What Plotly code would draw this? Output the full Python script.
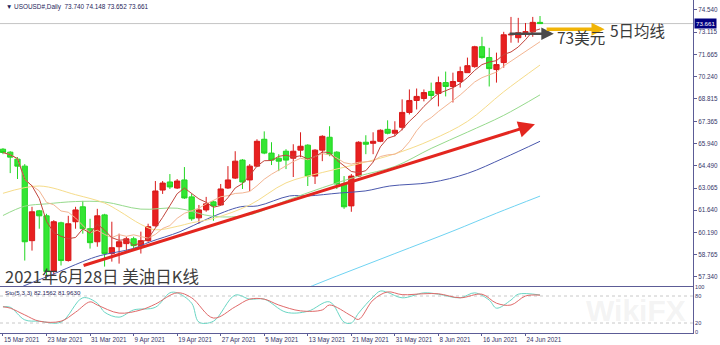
import numpy as np
import pandas as pd
import plotly.graph_objects as go

# ---------------- data ----------------
dates = [
    "2021-03-15", "2021-03-16", "2021-03-17", "2021-03-18", "2021-03-19",
    "2021-03-22", "2021-03-23", "2021-03-24", "2021-03-25", "2021-03-26",
    "2021-03-29", "2021-03-30", "2021-03-31", "2021-04-01", "2021-04-05",
    "2021-04-06", "2021-04-07", "2021-04-08", "2021-04-09", "2021-04-12",
    "2021-04-13", "2021-04-14", "2021-04-15", "2021-04-16", "2021-04-19",
    "2021-04-20", "2021-04-21", "2021-04-22", "2021-04-23", "2021-04-26",
    "2021-04-27", "2021-04-28", "2021-04-29", "2021-04-30", "2021-05-03",
    "2021-05-04", "2021-05-05", "2021-05-06", "2021-05-07", "2021-05-10",
    "2021-05-11", "2021-05-12", "2021-05-13", "2021-05-14", "2021-05-17",
    "2021-05-18", "2021-05-19", "2021-05-20", "2021-05-21", "2021-05-24",
    "2021-05-25", "2021-05-26", "2021-05-27", "2021-05-28", "2021-05-31",
    "2021-06-01", "2021-06-02", "2021-06-03", "2021-06-04", "2021-06-07",
    "2021-06-08", "2021-06-09", "2021-06-10", "2021-06-11", "2021-06-14",
    "2021-06-15", "2021-06-16", "2021-06-17", "2021-06-18", "2021-06-21",
    "2021-06-22", "2021-06-23", "2021-06-24", "2021-06-25", "2021-06-28",
]
opens = [65.57, 65.38, 64.93, 64.48, 59.68, 61.60, 61.28, 57.69, 60.83, 58.40,
         60.90, 61.86, 60.45, 59.61, 61.34, 58.85, 59.29, 59.49, 59.80, 59.36,
         59.68, 60.64, 62.94, 63.46, 63.07, 63.59, 62.50, 61.15, 61.66, 62.18,
         61.98, 63.07, 63.71, 64.87, 63.59, 64.48, 66.21, 65.32, 64.99, 65.44,
         64.99, 65.51, 65.83, 63.84, 65.51, 66.34, 65.38, 63.33, 61.92, 63.84,
         66.02, 65.95, 66.08, 66.85, 66.60, 66.98, 67.94, 68.71, 68.84, 69.29,
         69.16, 69.86, 69.61, 69.93, 70.50, 70.89, 72.17, 71.47, 70.70, 71.15,
         72.93, 72.75, 73.10, 73.13, 73.740]
highs = [65.64, 65.44, 65.06, 64.61, 61.86, 61.66, 61.41, 61.00, 60.90, 61.28,
         61.86, 62.24, 61.09, 61.73, 61.41, 60.90, 60.13, 59.93, 59.93, 60.26,
         60.77, 63.52, 63.52, 63.97, 63.65, 64.42, 62.69, 61.98, 62.50, 62.24,
         63.33, 64.48, 65.44, 64.93, 64.61, 66.21, 66.72, 66.02, 65.25, 65.57,
         65.89, 66.66, 65.89, 65.57, 66.47, 67.05, 65.44, 63.84, 63.97, 66.08,
         66.47, 66.66, 66.85, 67.43, 67.37, 68.78, 69.42, 69.48, 69.42, 69.86,
         70.25, 70.57, 70.50, 70.89, 71.47, 72.23, 72.81, 72.10, 71.79, 73.13,
         74.09, 74.03, 73.70, 74.09, 74.148]
lows = [65.25, 64.03, 63.65, 58.40, 59.04, 60.45, 57.24, 57.44, 58.08, 58.33,
        60.45, 60.13, 59.17, 59.29, 58.01, 58.33, 58.20, 59.04, 59.17, 58.85,
        59.61, 60.58, 62.69, 63.01, 63.01, 62.37, 60.96, 60.77, 61.54, 60.96,
        61.92, 63.01, 63.65, 63.01, 62.88, 64.42, 65.25, 64.55, 64.16, 64.29,
        63.78, 65.06, 63.20, 63.33, 64.80, 65.12, 63.01, 61.73, 61.54, 63.78,
        65.25, 65.25, 66.02, 66.53, 66.40, 66.79, 67.81, 68.13, 68.65, 68.78,
        68.33, 68.97, 68.58, 69.54, 70.50, 70.82, 71.40, 69.61, 69.86, 70.82,
        72.43, 72.43, 72.81, 72.81, 73.652]
closes = [65.36, 65.06, 64.48, 59.61, 61.54, 61.28, 57.69, 60.90, 58.40, 60.77,
          61.66, 60.45, 59.55, 61.28, 58.85, 59.23, 59.61, 59.80, 59.36, 59.68,
          60.58, 62.88, 63.39, 63.14, 63.52, 62.43, 61.09, 61.66, 62.05, 61.92,
          63.01, 63.59, 64.80, 63.46, 64.48, 66.08, 65.32, 64.87, 64.80, 64.87,
          65.44, 65.76, 63.84, 65.51, 66.40, 65.25, 63.33, 61.86, 63.84, 66.02,
          65.89, 66.08, 66.79, 66.60, 66.79, 67.94, 68.71, 68.97, 69.22, 69.03,
          69.86, 69.61, 69.93, 70.57, 70.95, 72.17, 71.47, 70.76, 71.02, 72.94,
          72.97, 73.07, 73.13, 73.74, 73.661]

# moving averages (bar index, price)
ma20_idx = [0, 5, 10, 14, 16, 19, 21, 24, 26, 29, 34, 39, 44, 49, 54, 59, 64, 69, 74]
ma20_val = [62.73, 63.20, 62.64, 62.10, 61.59, 60.73, 60.38, 60.60, 60.83, 61.11,
            61.98, 63.40, 64.07, 64.63, 65.27, 66.16, 67.36, 69.27, 70.99]
ma30_idx = [0, 3, 6, 10, 14, 19, 24, 29, 34, 39, 44, 49, 54, 59, 64, 69, 74]
ma30_val = [61.30, 61.90, 62.05, 62.20, 62.17, 61.71, 61.77, 61.24, 61.35, 62.25,
            63.09, 63.84, 64.46, 65.62, 66.67, 67.75, 69.07]
ma60_idx = [0, 2.8, 6.5, 11, 13.4, 17.9, 20.3, 24.4, 28.2, 32.7, 35.1, 39.5, 42,
            46.4, 49.9, 53.3, 59, 64, 69, 74]
ma60_val = [56.10, 56.75, 57.44, 58.33, 58.72, 59.17, 59.61, 60.26, 61.09, 61.86,
            61.92, 62.56, 62.56, 62.75, 62.88, 63.20, 63.43, 64.01, 65.00, 66.08]
ma120_idx = [38, 46, 54, 62, 68, 74]
ma120_val = [55.90, 57.40, 58.85, 60.30, 61.45, 62.55]

# stochastic (5,3,3)
k_idx = [0, 1, 3, 5, 8, 11, 13, 14, 16, 18, 21, 23, 24, 26, 27, 29, 32, 34, 36, 39,
         42, 45, 47, 48, 49, 51, 52, 53, 55, 58, 60, 63, 65, 67, 68, 70, 71, 74]
k_val = [56, 55, 27, 24, 22, 76, 64, 44, 33, 49, 55, 87, 87, 64, 22, 24, 82, 73, 73, 44,
         46, 67, 22, 20, 42, 78, 91, 88, 76, 87, 84, 76, 87, 71, 53, 71, 84, 82.16]
d_idx = [0, 1, 3, 5, 8, 10, 12, 13, 16, 19, 21, 24, 26, 29, 32, 34, 36, 38, 41, 44,
         45, 48, 49, 51, 53, 55, 58, 60, 63, 66, 68, 70, 72, 74]
d_val = [56, 53, 38, 24, 24, 44, 67, 60, 42, 49, 62, 87, 76, 31, 56, 73, 73, 60, 47, 49,
         60, 36, 28, 71, 89, 83, 85, 85, 76, 84, 64, 60, 80, 81.96]

tick_dates = ["2021-03-15", "2021-03-23", "2021-03-31", "2021-04-09", "2021-04-19",
              "2021-04-27", "2021-05-05", "2021-05-13", "2021-05-21", "2021-05-31",
              "2021-06-08", "2021-06-16", "2021-06-24"]
tick_labels = ["15 Mar 2021", "23 Mar 2021", "31 Mar 2021", "9 Apr 2021", "19 Apr 2021",
               "27 Apr 2021", "5 May 2021", "13 May 2021", "21 May 2021", "31 May 2021",
               "8 Jun 2021", "16 Jun 2021", "24 Jun 2021"]
price_ticks = [74.540, 73.115, 71.665, 70.240, 68.815, 67.365, 65.940, 64.490,
               63.065, 61.640, 60.190, 58.765, 57.340]
stoch_ticks = [100, 80, 20, 0]

trend_start = (10.9, 58.05)
trend_end = (73.3, 67.17)
level_73 = 73.0

# ---------------- figure ----------------
x = np.arange(len(dates))
cs = pd.Series(closes)
ma5 = cs.rolling(5, min_periods=1).mean()
ma10 = cs.rolling(10, min_periods=1).mean()

AX = "#5c5c96"
TXT = "#353568"
FONT = "Liberation Sans"
CJK = "Noto Sans CJK SC"
XR = [-0.41, 95.08]
XD = [0, 693 / 720]

fig = go.Figure()

def line(xx, yy, color, width=1, shape="linear", xa="x", ya="y"):
    fig.add_trace(go.Scatter(x=xx, y=yy, mode="lines", xaxis=xa, yaxis=ya,
                             line=dict(color=color, width=width, shape=shape),
                             hoverinfo="skip"))

line(ma120_idx, ma120_val, "#6fd3f2", 1, "spline")
line(ma60_idx, ma60_val, "#4a58ad", 1, "spline")
line(ma30_idx, ma30_val, "#96da8c", 1, "spline")
line(ma20_idx, ma20_val, "#f6dc8a", 1, "spline")
line(x, ma10, "#f3b592", 1)
line(x, ma5, "#c2453c", 1)

fig.add_trace(go.Candlestick(
    x=x, open=opens, high=highs, low=lows, close=closes,
    increasing=dict(line=dict(color="#d91a1a", width=1), fillcolor="#e82020"),
    decreasing=dict(line=dict(color="#22d622", width=1), fillcolor="#33e633"),
    whiskerwidth=0, hoverinfo="skip", xaxis="x", yaxis="y"))

line(k_idx, k_val, "#6ad6c4", 1, "spline", "x2", "y2")
line(d_idx, d_val, "#e06a6a", 1, "spline", "x2", "y2")

shapes = [
    dict(type="line", xref="paper", x0=XD[0], x1=XD[1], yref="y", y0=closes[-1], y1=closes[-1],
         line=dict(color="#c4c4c4", width=1), layer="below"),
    dict(type="line", xref="paper", x0=XD[0], x1=XD[1], yref="y2", y0=80, y1=80,
         line=dict(color="#c8c8c8", width=1, dash="dot"), layer="below"),
    dict(type="line", xref="paper", x0=XD[0], x1=XD[1], yref="y2", y0=20, y1=20,
         line=dict(color="#c8c8c8", width=1, dash="dot"), layer="below"),
]

annotations = [
    dict(xref="paper", yref="paper", x=688 / 720, y=0.10, text="<b>WikiFX</b>", showarrow=False,
         font=dict(family=FONT, size=30, color="rgba(190,190,190,0.18)"), xanchor="right", yanchor="middle"),
    dict(xref="x", yref="y", x=trend_end[0], y=trend_end[1], ax=trend_start[0], ay=trend_start[1],
         axref="x", ayref="y", showarrow=True, arrowhead=2, arrowsize=1.1, arrowwidth=3,
         arrowcolor="#e3261f", text=""),
    dict(xref="x", yref="y", x=75.9, y=level_73, ax=69.6, ay=level_73, axref="x", ayref="y",
         showarrow=True, arrowhead=2, arrowsize=1, arrowwidth=2.5, arrowcolor="#4a4a4a", text=""),
    dict(xref="x", yref="y", x=82.9, y=73.3, ax=74.7, ay=73.3, axref="x", ayref="y",
         showarrow=True, arrowhead=2, arrowsize=0.75, arrowwidth=3.5, arrowcolor="#f1b406", text=""),
    dict(xref="x", yref="y", x=76.0, y=72.78, text="73美元", showarrow=False,
         xanchor="left", yanchor="middle", font=dict(family=CJK, size=15.5, color="#3a3a3a")),
    dict(xref="x", yref="y", x=83.3, y=73.25, text="5日均线", showarrow=False,
         xanchor="left", yanchor="middle", font=dict(family=CJK, size=15.5, color="#3a3a3a")),
    dict(xref="paper", yref="paper", x=3 / 720, y=1 - 276 / 345, text="2021年6月28日 美油日K线",
         showarrow=False, xanchor="left", yanchor="middle",
         font=dict(family=CJK, size=16.5, color="#3c3c3c")),
    dict(xref="paper", yref="paper", x=4 / 720, y=1 - 7 / 345,
         text="▼ USOUSD#,Daily  %.3f %.3f %.3f %.3f" % (opens[-1], highs[-1], lows[-1], closes[-1]),
         showarrow=False, xanchor="left", yanchor="middle",
         font=dict(family=FONT, size=6.4, color="#1e1e5a")),
    dict(xref="paper", yref="paper", x=3 / 720, y=1 - 292 / 345,
         text="Sto(5,3,3) %.4f %.4f" % (82.1562, 81.9630),
         showarrow=False, xanchor="left", yanchor="middle",
         font=dict(family=FONT, size=6.2, color="#1e1e5a")),
    dict(xref="paper", yref="y", x=XD[1], y=closes[-1], xshift=1, text="%.3f" % closes[-1],
         showarrow=False, xanchor="left", yanchor="middle", bgcolor="#000080", borderpad=1,
         font=dict(family=FONT, size=6.2, color="white")),
]

tickvals = [dates.index(d) for d in tick_dates]

fig.update_layout(
    width=720, height=345, margin=dict(l=0, r=0, t=0, b=0),
    paper_bgcolor="white", plot_bgcolor="white", showlegend=False,
    boxgap=0.15, boxgroupgap=0.15,
    shapes=shapes, annotations=annotations,
    xaxis=dict(domain=XD, range=XR, anchor="y", showticklabels=False, showgrid=False,
               zeroline=False, showline=True, mirror=True, linecolor=AX, linewidth=1,
               rangeslider=dict(visible=False), ticks=""),
    yaxis=dict(domain=[1 - 286 / 345, 1], range=[56.76, 75.18], anchor="x", side="right",
               tickvals=price_ticks, ticktext=["%.3f" % v for v in price_ticks],
               ticks="outside", ticklen=3, tickcolor=AX, showgrid=False, zeroline=False,
               showline=True, mirror=True, linecolor=AX, linewidth=1,
               tickfont=dict(family=FONT, size=6.3, color=TXT), automargin=False),
    xaxis2=dict(domain=XD, range=XR, anchor="y2", tickvals=tickvals, ticktext=tick_labels,
                ticks="outside", ticklen=2, tickcolor=AX, tickangle=0,
                ticklabelposition="outside right",
                showgrid=False, zeroline=False, showline=True, mirror=True, linecolor=AX,
                linewidth=1, tickfont=dict(family=FONT, size=6.3, color=TXT), automargin=False),
    yaxis2=dict(domain=[1 - 333 / 345, 1 - 287 / 345], range=[-2.2, 100], anchor="x2",
                side="right", tickvals=stoch_ticks, ticktext=[str(v) for v in stoch_ticks],
                ticks="", showgrid=False, zeroline=False, showline=True, mirror=True,
                linecolor=AX, linewidth=1,
                tickfont=dict(family=FONT, size=5.6, color=TXT), automargin=False),
)

fig.write_html("out.html")
